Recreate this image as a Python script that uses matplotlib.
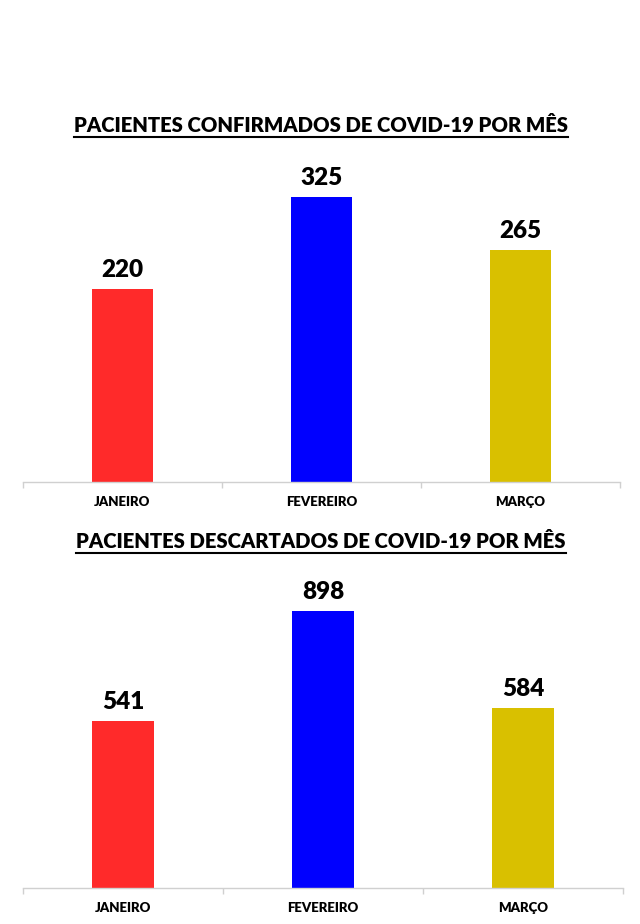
import matplotlib
matplotlib.use('Agg')
import matplotlib.pyplot as plt
from matplotlib.lines import Line2D

# data
meses = ['JANEIRO', 'FEVEREIRO', 'MARÇO']
confirmados = [220, 325, 265]
descartados = [541, 898, 584]
cores = ['#FF2A2A', '#0000FF', '#D9C000']

titulo_conf = 'PACIENTES CONFIRMADOS DE COVID-19 POR MÊS'
titulo_desc = 'PACIENTES DESCARTADOS DE COVID-19 POR MÊS'

plt.rcParams['font.family'] = ['Lato', 'DejaVu Sans']

fig = plt.figure(figsize=(6.4, 9.24), dpi=100)
fig.patch.set_facecolor('white')
W, H = 640, 924


def desenha(ax, valores, ymax):
    x = range(len(meses))
    ax.bar(x, valores, width=0.31, color=cores)
    for xi, v in zip(x, valores):
        ax.text(xi, v + ymax * 0.025, str(v), ha='center', va='bottom',
                fontsize=17.5, fontweight='heavy', color='black')
    ax.set_xlim(-0.5, len(meses) - 0.5)
    ax.set_ylim(0, ymax)
    ax.set_yticks([])
    ax.set_xticks(list(x))
    ax.set_xticklabels(meses, fontsize=9.5, fontweight='heavy')
    ax.tick_params(axis='x', which='major', length=0, pad=10)
    ax.set_xticks([-0.5, 0.5, 1.5, 2.5], minor=True)
    ax.tick_params(axis='x', which='minor', length=4, color='#d0d0d0', width=1)
    for s in ['top', 'left', 'right']:
        ax.spines[s].set_visible(False)
    ax.spines['bottom'].set_color('#d0d0d0')
    ax.spines['bottom'].set_linewidth(1)


# top chart: baseline y=482, top y=160
ax1 = fig.add_axes([23 / W, (H - 482) / H, 597 / W, 322 / H])
desenha(ax1, confirmados, 322 / 0.877)

# bottom chart: baseline y=888, top y=570
ax2 = fig.add_axes([23 / W, (H - 888) / H, 600 / W, 318 / H])
desenha(ax2, descartados, 318 / 0.309)

# titles with underline
fig.canvas.draw()
renderer = fig.canvas.get_renderer()
for txt, yc, xc in [(titulo_conf, 125, 321), (titulo_desc, 541, 321)]:
    t = fig.text(xc / W, (H - yc) / H, txt, ha='center', va='center',
                 fontsize=14.6, fontweight='heavy', color='black')
    bb = t.get_window_extent(renderer=renderer)
    yl = (bb.y0 - 2) / (H)
    fig.add_artist(Line2D([bb.x0 / W, bb.x1 / W], [yl, yl],
                          transform=fig.transFigure, color='black', lw=1.5))

fig.savefig('out.png', dpi=100, facecolor='white')
